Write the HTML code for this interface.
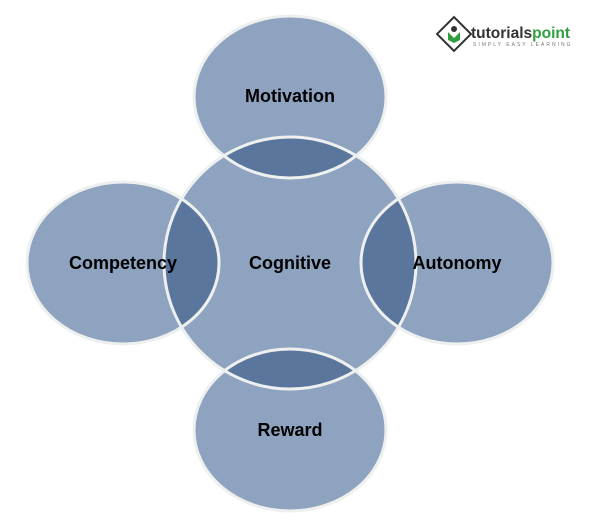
<!DOCTYPE html>
<html><head><style>body{margin:0;background:#fff;width:601px;height:522px;overflow:hidden}</style></head>
<body>
<svg width="601" height="522" viewBox="0 0 601 522" xmlns="http://www.w3.org/2000/svg">
<defs>
<clipPath id="c"><circle cx="290" cy="263" r="126"/></clipPath>
</defs>
<g fill="#8ea3bf">
<circle cx="290" cy="263" r="126"/>
<ellipse cx="290" cy="97" rx="96" ry="81"/>
<ellipse cx="123" cy="263" rx="96" ry="81"/>
<ellipse cx="457" cy="263" rx="96" ry="81"/>
<ellipse cx="290" cy="430" rx="96" ry="81"/>
</g>
<g fill="#5a769c" clip-path="url(#c)">
<ellipse cx="290" cy="97" rx="96" ry="81"/>
<ellipse cx="123" cy="263" rx="96" ry="81"/>
<ellipse cx="457" cy="263" rx="96" ry="81"/>
<ellipse cx="290" cy="430" rx="96" ry="81"/>
</g>
<g fill="none" stroke="#eef0f0" stroke-width="3">
<circle cx="290" cy="263" r="126"/>
<ellipse cx="290" cy="97" rx="96" ry="81"/>
<ellipse cx="123" cy="263" rx="96" ry="81"/>
<ellipse cx="457" cy="263" rx="96" ry="81"/>
<ellipse cx="290" cy="430" rx="96" ry="81"/>
</g>
<g font-family="Liberation Sans, sans-serif" font-weight="bold" font-size="18" fill="#000" text-anchor="middle">
<text x="290" y="102">Motivation</text>
<text x="123" y="269">Competency</text>
<text x="290" y="269">Cognitive</text>
<text x="457" y="269">Autonomy</text>
<text x="290" y="436">Reward</text>
</g>
<g transform="translate(454,34)">
<rect x="-12" y="-12" width="24" height="24" transform="rotate(45)" fill="#fff" stroke="#333" stroke-width="2"/>
<path d="M-6 -2 L0 4 L6 -2 L6 6 L0 9 L-6 6Z" fill="#2e9e3e"/>
<circle cx="0" cy="-5" r="3" fill="#333"/>
</g>
<text x="471" y="38" font-family="Liberation Sans, sans-serif" font-weight="bold" font-size="15.5" fill="#333">tutorials<tspan fill="#2e9e3e">point</tspan></text>
<text x="473" y="46" font-family="Liberation Sans, sans-serif" font-size="5" letter-spacing="2" fill="#777">SIMPLY EASY LEARNING</text>
</svg>
</body></html>
